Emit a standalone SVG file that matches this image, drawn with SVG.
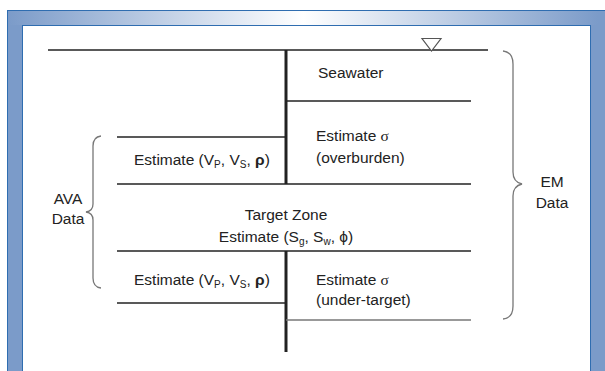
<svg xmlns="http://www.w3.org/2000/svg" width="605" height="371" viewBox="0 0 605 371">
<defs>
<linearGradient id="topbar" x1="0" y1="0" x2="1" y2="0">
<stop offset="0" stop-color="#7b9bc9"/>
<stop offset="0.5" stop-color="#ffffff"/>
<stop offset="1" stop-color="#7b9bc9"/>
</linearGradient>
<style>
text{font-family:"Liberation Sans",Arial,sans-serif;font-size:15.5px;fill:#222}
.sub{font-size:10px}
.ln{stroke:#222;stroke-width:1.3;fill:none}
.gl{stroke:#777;stroke-width:1.3;fill:none}
.br{stroke:#777;stroke-width:1.3;fill:none}
</style>
</defs>
<g id="frame">
<rect x="7.5" y="10.5" width="605" height="370" fill="#7b9bc9" stroke="#2f6db0" stroke-width="1"/>
<rect x="8" y="11" width="590" height="14" fill="url(#topbar)"/>
<rect x="22.5" y="25.5" width="568" height="360" fill="#ffffff" stroke="#2f6db0" stroke-width="1"/>
</g>
<g id="connectors">
<line class="ln" x1="48" y1="50" x2="488" y2="50"/>
<line x1="286" y1="50" x2="286" y2="184" stroke="#222" stroke-width="3"/>
<line x1="286" y1="251" x2="286" y2="352" stroke="#222" stroke-width="3"/>
<line class="ln" x1="286" y1="101" x2="471" y2="101"/>
<line class="ln" x1="117" y1="137" x2="286" y2="137"/>
<line class="ln" x1="117" y1="184" x2="471" y2="184"/>
<line class="ln" x1="117" y1="251" x2="471" y2="251"/>
<line class="ln" x1="117" y1="303" x2="286" y2="303"/>
<line class="gl" x1="286" y1="320" x2="471" y2="320"/>
</g>
<g id="water-level">
<polygon points="422,38.5 441,38.5 431.5,51" fill="#fff" stroke="#555" stroke-width="1.2"/>
</g>
<g id="seawater">
<text x="318" y="78">Seawater</text>
</g>
<g id="overburden">
<text x="316" y="141">Estimate  <tspan font-family="Liberation Serif,serif">σ</tspan></text>
<text x="316" y="163">(overburden)</text>
</g>
<g id="ava-upper">
<text x="134" y="165">Estimate (V<tspan class="sub" dy="3">P</tspan><tspan dy="-3">, V</tspan><tspan class="sub" dy="3">S</tspan><tspan dy="-3">, </tspan><tspan font-weight="bold">ρ</tspan>)</text>
</g>
<g id="target">
<text x="286" y="220" text-anchor="middle">Target Zone</text>
<text x="286" y="242" text-anchor="middle">Estimate (S<tspan class="sub" dy="3">g</tspan><tspan dy="-3">, S</tspan><tspan class="sub" dy="3">w</tspan><tspan dy="-3">, ϕ)</tspan></text>
</g>
<g id="ava-lower">
<text x="134" y="285">Estimate (V<tspan class="sub" dy="3">P</tspan><tspan dy="-3">, V</tspan><tspan class="sub" dy="3">S</tspan><tspan dy="-3">, </tspan><tspan font-weight="bold">ρ</tspan>)</text>
</g>
<g id="undertarget">
<text x="316" y="285">Estimate  <tspan font-family="Liberation Serif,serif">σ</tspan></text>
<text x="316" y="305">(under-target)</text>
</g>
<g id="ava-data">
<path class="br" d="M101,136 Q93,137 93,146 L93,204 Q93,211 86,212 Q93,213 93,220 L93,278 Q93,287 101,288"/>
<text x="68" y="204" text-anchor="middle">AVA</text>
<text x="68" y="224" text-anchor="middle">Data</text>
</g>
<g id="em-data">
<path class="br" d="M503,51 Q513,52 513,64 L513,172 Q513,182 522,184 Q513,186 513,196 L513,306 Q513,318 503,319"/>
<text x="552" y="187" text-anchor="middle">EM</text>
<text x="552" y="208" text-anchor="middle">Data</text>
</g>
</svg>
